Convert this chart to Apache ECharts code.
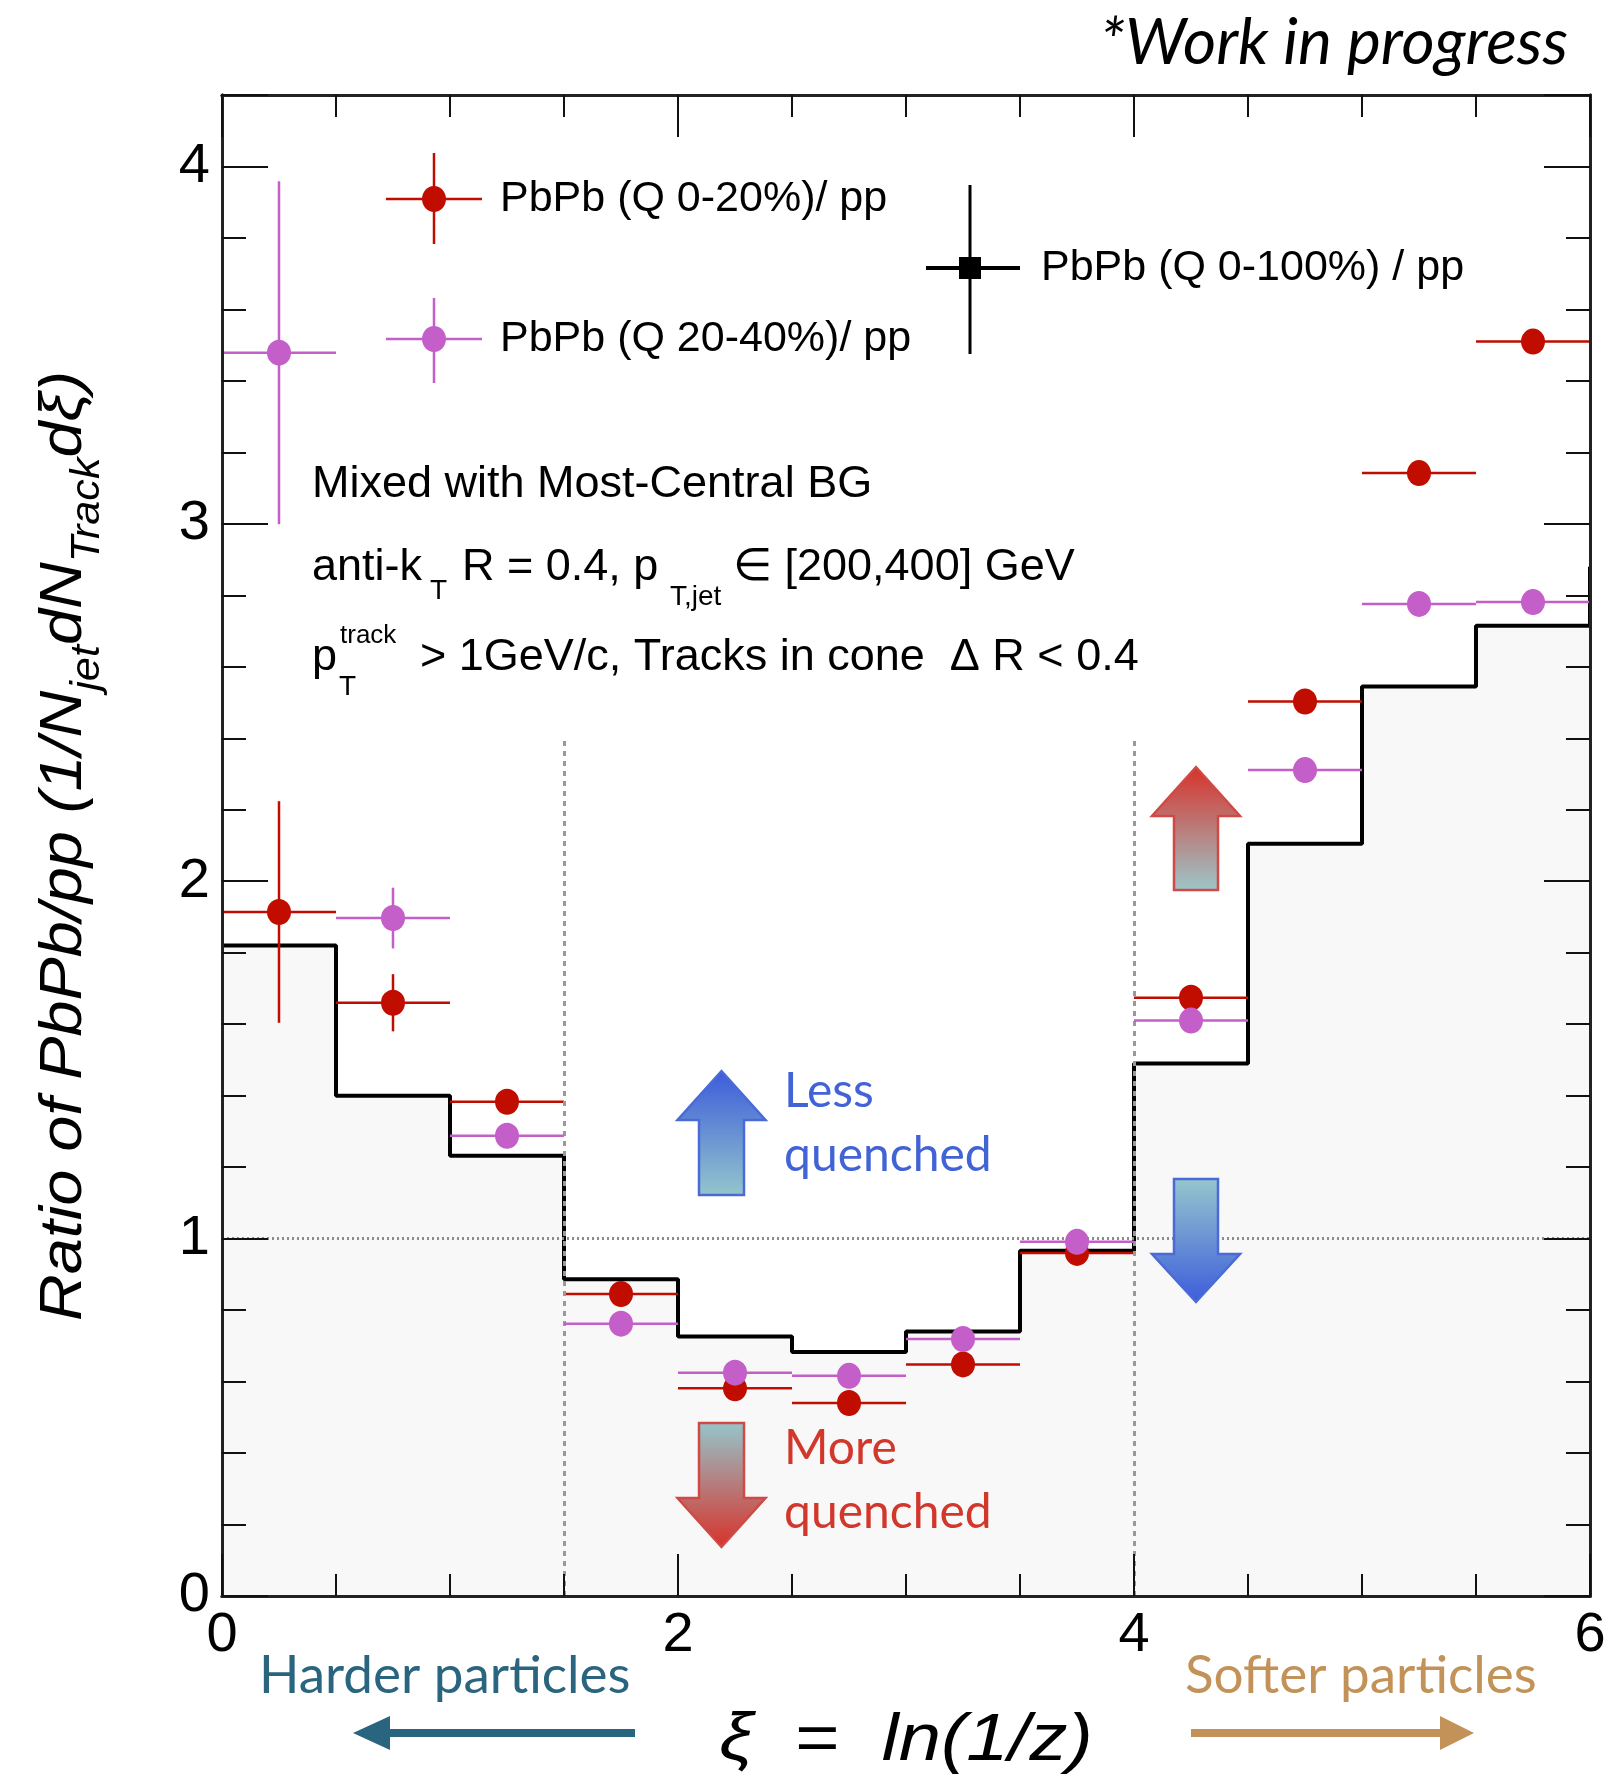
<!DOCTYPE html>
<html>
<head>
<meta charset="utf-8">
<script src="https://cdn.jsdelivr.net/npm/echarts@6/dist/echarts.min.js"></script>
<style>
  html, body { margin: 0; padding: 0; background: #fff; }
  #chart { width: 1610px; height: 1782px; }
</style>
</head>
<body>
<div id="chart"></div>
<script>
// xi = ln(1/z) bins, width 0.5
const binCenters = [0.25, 0.75, 1.25, 1.75, 2.25, 2.75, 3.25, 3.75, 4.25, 4.75, 5.25, 5.75];
const binHalfWidth = 0.25;

// PbPb (Q 0-100%) / pp  -> step histogram
const ratioQ0to100 = [1.82, 1.40, 1.232, 0.886, 0.726, 0.683, 0.740, 0.966, 1.490, 2.105, 2.545, 2.715];
const ratioQ0to100Next = 2.88; // edge of the bin starting at xi = 6

// PbPb (Q 0-20%) / pp
const ratioQ0to20 = [1.914, 1.660, 1.383, 0.845, 0.581, 0.540, 0.648, 0.960, 1.674, 2.503, 3.142, 3.510];
const errQ0to20 = [0.31, 0.08, 0.02, 0.02, 0.02, 0.02, 0.02, 0.02, 0.02, 0.02, 0.02, 0.02];

// PbPb (Q 20-40%) / pp
const ratioQ20to40 = [3.479, 1.897, 1.288, 0.762, 0.625, 0.616, 0.719, 0.991, 1.610, 2.311, 2.776, 2.781];
const errQ20to40 = [0.48, 0.085, 0.02, 0.02, 0.02, 0.02, 0.02, 0.02, 0.02, 0.02, 0.02, 0.02];

// reference lines
const splitXi = [1.5, 4];
const splitTop = 2.4;
const unity = 1;

const xMin = 0, xMax = 6, yMin = 0, yMax = 4.2;

const RED = '#c00d00';
const MAGENTA = '#c45ec8';
const ROOT_FONT = '"Liberation Sans", Arial, sans-serif';
const PPT_FONT = 'Lato, "Open Sans", sans-serif';

// step line for the histogram
const histLine = [];
binCenters.forEach((c, i) => {
    histLine.push([c - binHalfWidth, ratioQ0to100[i]]);
    histLine.push([c + binHalfWidth, ratioQ0to100[i]]);
});
histLine.push([xMax, ratioQ0to100Next]);

function errorBars(color) {
    return function (params, api) {
        const x = api.value(0), y = api.value(1), e = api.value(2);
        const l = api.coord([x - binHalfWidth, y]);
        const r = api.coord([x + binHalfWidth, y]);
        const t = api.coord([x, y + e]);
        const b = api.coord([x, y - e]);
        const style = { stroke: color, lineWidth: 2.5 };
        return {
            type: 'group',
            children: [
                { type: 'line', shape: { x1: l[0], y1: l[1], x2: r[0], y2: r[1] }, style: style },
                { type: 'line', shape: { x1: t[0], y1: t[1], x2: b[0], y2: b[1] }, style: style }
            ]
        };
    };
}

const axisLine = { show: true, onZero: false, lineStyle: { color: '#222', width: 3 } };
const isInt = v => Math.abs(v - Math.round(v)) < 1e-6;

function xAx(position, interval, len, showLabel) {
    return {
        type: 'value', position: position, min: xMin, max: xMax, interval: interval, z: 20,
        axisLine: axisLine, splitLine: { show: false },
        axisTick: { show: true, inside: true, length: len, lineStyle: { color: '#111', width: 2 } },
        axisLabel: {
            show: showLabel, margin: 12, fontSize: 56, fontFamily: ROOT_FONT, color: '#000',
            formatter: v => (isInt(v) && Math.round(v) % 2 === 0 ? String(Math.round(v)) : '')
        }
    };
}
function yAx(position, interval, len, showLabel) {
    return {
        type: 'value', position: position, min: yMin, max: yMax, interval: interval, z: 20,
        axisLine: axisLine, splitLine: { show: false },
        axisTick: { show: true, inside: true, length: len, lineStyle: { color: '#111', width: 2 } },
        axisLabel: {
            show: showLabel, margin: 12, fontSize: 56, fontFamily: ROOT_FONT, color: '#000',
            formatter: v => (isInt(v) ? String(Math.round(v)) : '')
        }
    };
}

function text(x, y, str, size, opts) {
    return {
        type: 'text', x: x, y: y, z: 100,
        style: Object.assign({
            text: str, fontSize: size, fontFamily: ROOT_FONT, fill: '#000',
            textAlign: 'left', textVerticalAlign: 'middle', align: 'left', verticalAlign: 'middle'
        }, opts || {})
    };
}

function grad(c1, c2) {
    return new echarts.graphic.LinearGradient(0, 0, 0, 1, [
        { offset: 0, color: c1 }, { offset: 1, color: c2 }
    ]);
}
function upArrow(cx, tip, base, bottom, hh, sh, c1, c2, stroke) {
    return {
        type: 'polygon', z: 90,
        shape: { points: [[cx, tip], [cx + hh, base], [cx + sh, base], [cx + sh, bottom],
            [cx - sh, bottom], [cx - sh, base], [cx - hh, base]] },
        style: { fill: grad(c1, c2), stroke: stroke, lineWidth: 2.5 }
    };
}
function downArrow(cx, top, base, tip, hh, sh, c1, c2, stroke) {
    return {
        type: 'polygon', z: 90,
        shape: { points: [[cx - sh, top], [cx + sh, top], [cx + sh, base], [cx + hh, base],
            [cx, tip], [cx - hh, base], [cx - sh, base]] },
        style: { fill: grad(c1, c2), stroke: stroke, lineWidth: 2.5 }
    };
}
function hArrow(tail, base, tip, y, hh, sh, color) {
    return {
        type: 'polygon', z: 90,
        shape: { points: [[tail, y - sh], [base, y - sh], [base, y - hh], [tip, y],
            [base, y + hh], [base, y + sh], [tail, y + sh]] },
        style: { fill: color }
    };
}
function legendMark(cx, cy, x1, x2, y1, y2, color) {
    return [
        { type: 'line', z: 100, shape: { x1: x1, y1: cy, x2: x2, y2: cy }, style: { stroke: color, lineWidth: 2.5 } },
        { type: 'line', z: 100, shape: { x1: cx, y1: y1, x2: cx, y2: y2 }, style: { stroke: color, lineWidth: 2.5 } },
        { type: 'ellipse', z: 101, shape: { cx: cx, cy: cy, rx: 12, ry: 13 }, style: { fill: color } }
    ];
}

const chart = echarts.init(document.getElementById('chart'));

const option = {
    animation: false,
    backgroundColor: '#fff',
    grid: { left: 222, right: 20, top: 95, bottom: 186, containLabel: false, outerBoundsMode: 'none' },
    xAxis: [
        xAx('bottom', 0.5, 22, true),
        xAx('bottom', 2, 42, false),
        xAx('top', 0.5, 22, false),
        xAx('top', 2, 42, false)
    ],
    yAxis: [
        yAx('left', 0.2, 24, true),
        yAx('left', 1, 46, false),
        yAx('right', 0.2, 24, false),
        yAx('right', 1, 46, false)
    ],
    series: [
        {
            // filled area of the inclusive histogram + reference lines
            type: 'line', data: histLine, symbol: 'none', z: 1, silent: true,
            lineStyle: { width: 0 },
            areaStyle: { color: '#f8f8f8', opacity: 1 },
            markLine: {
                silent: true, symbol: ['none', 'none'], label: { show: false },
                lineStyle: { color: '#999', width: 3, type: [5, 5] },
                data: [
                    [{ coord: [splitXi[0], yMin] }, { coord: [splitXi[0], splitTop] }],
                    [{ coord: [splitXi[1], yMin] }, { coord: [splitXi[1], splitTop] }],
                    { yAxis: unity, lineStyle: { color: '#8c8c8c', width: 3, type: [2, 3] } }
                ]
            }
        },
        {
            name: 'PbPb (Q 0-100%) / pp',
            type: 'line', data: histLine, symbol: 'none', z: 2, clip: false,
            lineStyle: { color: '#000', width: 4 }
        },
        {
            type: 'custom', z: 3, renderItem: errorBars(RED), encode: { x: 0, y: 1 },
            data: binCenters.map((c, i) => [c, ratioQ0to20[i], errQ0to20[i]])
        },
        {
            name: 'PbPb (Q 0-20%)/ pp',
            type: 'scatter', z: 4, symbol: 'circle', symbolSize: [24, 26],
            itemStyle: { color: RED, opacity: 1 },
            data: binCenters.map((c, i) => [c, ratioQ0to20[i]])
        },
        {
            type: 'custom', z: 5, renderItem: errorBars(MAGENTA), encode: { x: 0, y: 1 },
            data: binCenters.map((c, i) => [c, ratioQ20to40[i], errQ20to40[i]])
        },
        {
            name: 'PbPb (Q 20-40%)/ pp',
            type: 'scatter', z: 6, symbol: 'circle', symbolSize: [24, 26],
            itemStyle: { color: MAGENTA, opacity: 1 },
            data: binCenters.map((c, i) => [c, ratioQ20to40[i]])
        }
    ],
    graphic: [
        text(1568, 43, '*Work in progress', 64, { fontFamily: PPT_FONT, fontStyle: 'italic', textAlign: 'right', align: 'right' }),

        // legend
        ...legendMark(434, 199, 386, 482, 153, 244, RED),
        text(500, 199, 'PbPb (Q 0-20%)/ pp', 43),
        ...legendMark(434, 339, 386, 482, 298, 383, MAGENTA),
        text(500, 339, 'PbPb (Q 20-40%)/ pp', 43),
        { type: 'line', z: 100, shape: { x1: 926, y1: 268, x2: 1020, y2: 268 }, style: { stroke: '#000', lineWidth: 4 } },
        { type: 'line', z: 100, shape: { x1: 970, y1: 185, x2: 970, y2: 354 }, style: { stroke: '#000', lineWidth: 3 } },
        { type: 'rect', z: 101, shape: { x: 959, y: 257, width: 22, height: 22 }, style: { fill: '#000' } },
        text(1041, 268, 'PbPb (Q 0-100%) / pp', 43),

        // description
        text(312, 485, 'Mixed with Most-Central BG', 45),
        text(312, 568, 'anti-k', 45),
        text(430, 591, 'T', 28),
        text(462, 568, 'R = 0.4, p', 45),
        text(670, 597, 'T,jet', 28),
        text(733, 568, '\u2208 [200,400] GeV', 45),
        text(312, 658, 'p', 45),
        text(340, 636, 'track', 26),
        text(339, 687, 'T', 28),
        text(420, 658, '> 1GeV/c, Tracks in cone  \u0394 R < 0.4', 45),

        // quenching arrows
        upArrow(721.5, 1071, 1120, 1195, 44, 22.5, '#3b5bdb', '#94c6cc', '#4a6ad8'),
        downArrow(721.5, 1423, 1498, 1547, 44, 22.5, '#94c6cc', '#d8312a', '#cf4a45'),
        upArrow(1196, 767, 816, 890, 44, 22, '#d8312a', '#9cc7ca', '#cf4a45'),
        downArrow(1196, 1179, 1254, 1302, 44, 22, '#96c7cd', '#3c5cdc', '#4a6ad8'),
        text(784, 1092, 'Less', 48, { fontFamily: PPT_FONT, fill: '#4163d6' }),
        text(784, 1156, 'quenched', 48, { fontFamily: PPT_FONT, fill: '#4163d6' }),
        text(784, 1449, 'More', 48, { fontFamily: PPT_FONT, fill: '#d2372c' }),
        text(784, 1513, 'quenched', 48, { fontFamily: PPT_FONT, fill: '#d2372c' }),

        // axis titles
        {
            type: 'text', x: 64, y: 846, rotation: Math.PI / 2, scaleX: 1.08, z: 100,
            style: {
                text: '{m|Ratio of PbPb/pp (1/N}{s|jet}{m|dN}{s|Track}{m|d\u03be)}',
                textAlign: 'center', textVerticalAlign: 'middle', align: 'center', verticalAlign: 'middle',
                fill: '#000',
                rich: {
                    m: { fontSize: 60, fontStyle: 'italic', fontFamily: ROOT_FONT, lineHeight: 88, verticalAlign: 'middle', fill: '#000' },
                    s: { fontSize: 40, fontStyle: 'italic', fontFamily: ROOT_FONT, lineHeight: 40, verticalAlign: 'bottom', fill: '#000' }
                }
            }
        },
        {
            type: 'text', x: 906, y: 1742, scaleX: 1.15, z: 100,
            style: {
                text: '{i|\u03be}{n|  =  }{i|ln(1/z)}',
                textAlign: 'center', textVerticalAlign: 'middle', align: 'center', verticalAlign: 'middle',
                fill: '#000',
                rich: {
                    i: { fontSize: 66, fontStyle: 'italic', fontFamily: ROOT_FONT, fill: '#000' },
                    n: { fontSize: 66, fontFamily: ROOT_FONT, fill: '#000' }
                }
            }
        },
        text(259, 1676, 'Harder particles', 53, { fontFamily: PPT_FONT, fill: '#2a6580' }),
        text(1185, 1676, 'Softer particles', 53, { fontFamily: PPT_FONT, fill: '#c39258' }),
        hArrow(635, 390, 353, 1733, 17, 4, '#2a6580'),
        hArrow(1191, 1440, 1474, 1733, 17, 4, '#c39258')
    ]
};

chart.setOption(option);
</script>
</body>
</html>
